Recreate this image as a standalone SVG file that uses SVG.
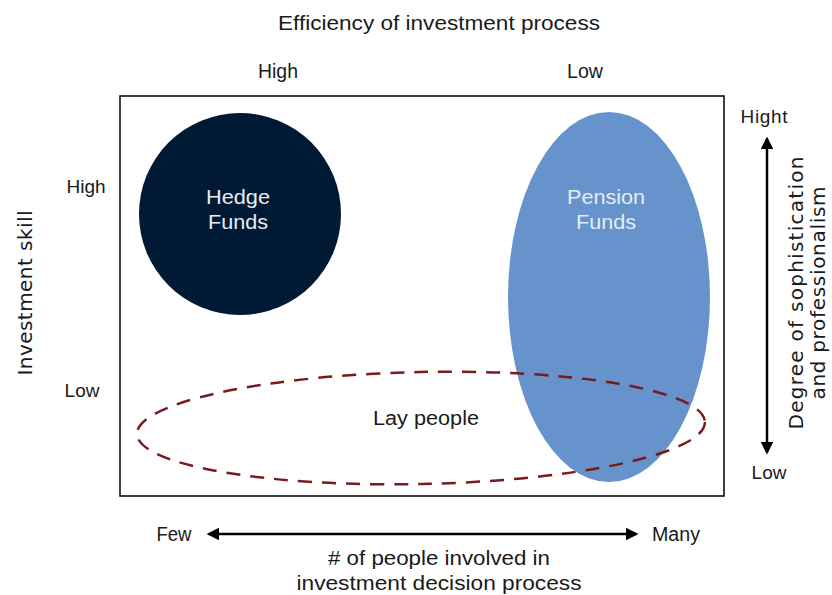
<svg xmlns="http://www.w3.org/2000/svg" width="832" height="595" viewBox="0 0 832 595">
<style>
.cond{font-family:"Liberation Sans",Arial,sans-serif;font-size:20px;fill:#1a1a1a;text-anchor:middle}
.sans{font-family:"Liberation Sans",Arial,sans-serif;font-size:19px;fill:#1a1a1a;text-anchor:middle}
.side{font-family:"DejaVu Sans","Liberation Sans",sans-serif;font-size:20px;fill:#1a1a1a;text-anchor:middle}
.node{font-family:"Liberation Sans",Arial,sans-serif;font-size:21px;fill:#e6ecf4;text-anchor:middle}
</style>
<defs>
<marker id="ah" viewBox="0 0 10 10" refX="8" refY="5" markerWidth="5" markerHeight="5" orient="auto-start-reverse">
<path d="M0,0 L10,5 L0,10 z" fill="#000"/>
</marker>
</defs>
<rect width="832" height="595" fill="#fff"/>
<rect x="120" y="96" width="604" height="400" fill="none" stroke="#000" stroke-width="1.5"/>
<g id="hedge">
<circle cx="240" cy="214" r="101" fill="#001a35"/>
<text class="node" x="238" y="204" textLength="64" lengthAdjust="spacingAndGlyphs">Hedge</text>
<text class="node" x="238" y="229" textLength="60" lengthAdjust="spacingAndGlyphs">Funds</text>
</g>
<g id="pension">
<ellipse cx="609" cy="297" rx="101" ry="185" fill="#6693cc"/>
<text class="node" x="606" y="204" textLength="78" lengthAdjust="spacingAndGlyphs">Pension</text>
<text class="node" x="606" y="229" textLength="60" lengthAdjust="spacingAndGlyphs">Funds</text>
</g>
<g id="lay">
<ellipse cx="421" cy="428" rx="284" ry="56" fill="none" stroke="#7a1a1a" stroke-width="2.5" stroke-dasharray="14,10" transform="rotate(-1.2 421 428)"/>
<text class="cond" x="426" y="425" textLength="106" lengthAdjust="spacingAndGlyphs">Lay people</text>
</g>
<g id="connectors">
<line x1="767" y1="139" x2="767" y2="452" stroke="#000" stroke-width="2.5" marker-start="url(#ah)" marker-end="url(#ah)"/>
<line x1="209" y1="534" x2="636" y2="534" stroke="#000" stroke-width="2.5" marker-start="url(#ah)" marker-end="url(#ah)"/>
</g>
<g id="labels">
<text class="cond" x="439" y="30" textLength="322" lengthAdjust="spacingAndGlyphs">Efficiency of investment process</text>
<text class="cond" x="278" y="78" textLength="40" lengthAdjust="spacingAndGlyphs">High</text>
<text class="cond" x="585" y="78" textLength="36" lengthAdjust="spacingAndGlyphs">Low</text>
<text class="sans" x="86" y="193" textLength="39">High</text>
<text class="sans" x="82" y="397" textLength="35">Low</text>
<text class="side" x="0" y="0" transform="translate(32 293) rotate(-90)" textLength="165">Investment skill</text>
<text class="sans" x="764" y="123" textLength="47">Hight</text>
<text class="sans" x="769" y="479" textLength="35">Low</text>
<text class="side" x="0" y="0" transform="translate(803 293) rotate(-90)" textLength="273">Degree of sophistication</text>
<text class="side" x="0" y="0" transform="translate(825 293) rotate(-90)" textLength="213">and professionalism</text>
<text class="cond" x="174" y="541" textLength="35" lengthAdjust="spacingAndGlyphs">Few</text>
<text class="cond" x="676" y="541" textLength="48" lengthAdjust="spacingAndGlyphs">Many</text>
<text class="cond" x="439" y="565" textLength="222" lengthAdjust="spacingAndGlyphs"># of people involved in</text>
<text class="cond" x="439" y="590" textLength="285" lengthAdjust="spacingAndGlyphs">investment decision process</text>
</g>
</svg>
